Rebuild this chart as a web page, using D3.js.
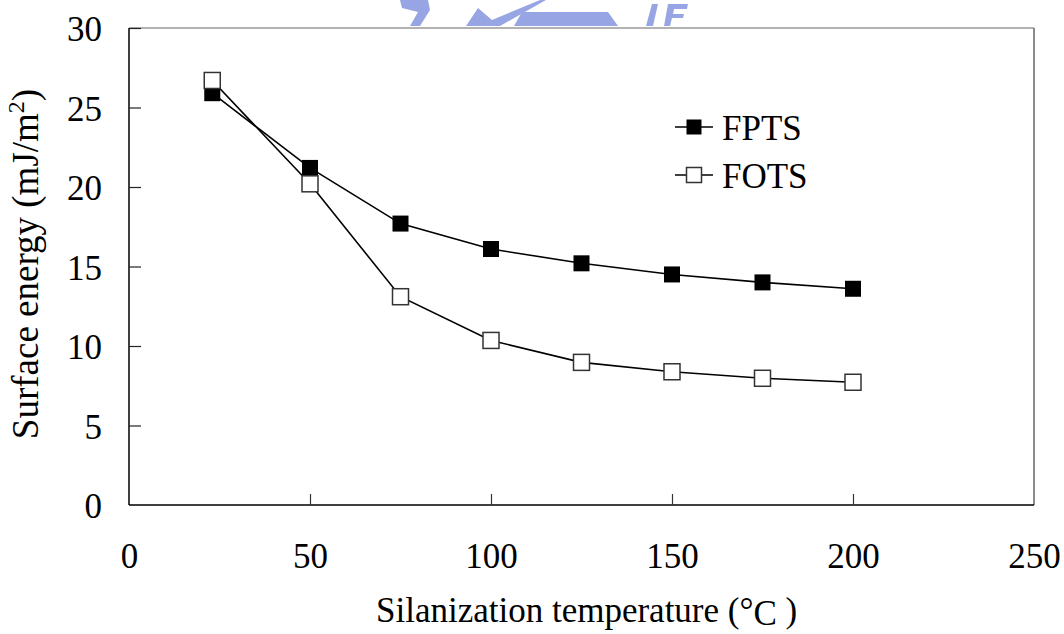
<!DOCTYPE html>
<html><head><meta charset="utf-8">
<script src="https://cdn.jsdelivr.net/npm/d3@7"></script>
<style>body{margin:0;background:#fff}svg{display:block}</style>
</head><body><svg id="c" width="1064" height="634"></svg>
<script>
const temps = [23, 50, 75, 100, 125, 150, 175, 200];
const fpts = [25.9, 21.2, 17.7, 16.1, 15.2, 14.5, 14.0, 13.6];
const fots = [26.7, 20.2, 13.1, 10.35, 8.97, 8.38, 7.97, 7.72];
const xTicks = [0, 50, 100, 150, 200, 250];
const yTicks = [0, 5, 10, 15, 20, 25, 30];
const seriesNames = ["FPTS", "FOTS"];

const FONT = "'Liberation Serif', 'DejaVu Serif', 'Noto Serif', serif";
const svg = d3.select("#c");
const L = 129, R = 1034, T = 28, B = 505;
const x = d3.scaleLinear().domain([0, 250]).range([L, R]);
const y = d3.scaleLinear().domain([0, 30]).range([B, T]);

// faint watermark (clipped above plot)
const wm = svg.append("g").attr("fill", "#97a5e4");
wm.append("path").attr("d", "M400,0 L428,0 L430,10 L420,26 L410,26 L418,12 L402,8 Z");
wm.append("path").attr("d", "M466,26 L478,8 L492,20 L540,0 L546,0 L500,26 Z");
wm.append("path").attr("d", "M522,12 L608,12 L618,26 L514,26 Z");
wm.append("path").attr("d", "M646,26 L652,4 L658,4 L653,26 Z");
wm.append("path").attr("d", "M664,26 L668,4 L688,4 L687,9 L674,9 L673,14 L684,14 L683,18 L672,18 L670,26 Z");

// frame
svg.append("line").attr("x1", L).attr("x2", R).attr("y1", T).attr("y2", T).attr("stroke", "#999").attr("stroke-width", 1.5);
svg.append("line").attr("x1", R).attr("x2", R).attr("y1", T).attr("y2", B).attr("stroke", "#666").attr("stroke-width", 1.5);

// axes
const xAxis = d3.axisBottom(x).tickValues(xTicks).tickSize(-11).tickPadding(38).tickFormat(d3.format("d"));
const gx = svg.append("g").attr("transform", `translate(0,${B})`).call(xAxis);
gx.select(".domain").attr("stroke", "#000").attr("stroke-width", 1.5).attr("d", `M${L},0H${R}`);
gx.selectAll(".tick line").attr("stroke", "#333").attr("stroke-width", 1.2).filter(d => d === 0 || d === 250).remove();
gx.selectAll(".tick text").style("font-family", FONT).style("font-size", "35px").attr("fill", "#000").attr("dy", "0.71em");

const yAxis = d3.axisLeft(y).tickValues(yTicks).tickSize(-12).tickPadding(27);
const gy = svg.append("g").attr("transform", `translate(${L},0)`).call(yAxis);
gy.select(".domain").attr("stroke", "#000").attr("stroke-width", 1.5).attr("d", `M0,${T}V${B}`);
gy.selectAll(".tick line").attr("stroke", "#222").attr("stroke-width", 1.2).filter(d => d === 0).remove();
gy.selectAll(".tick text").style("font-family", FONT).style("font-size", "35px").attr("fill", "#000").attr("dy", "0.36em");

// titles
const xt = svg.append("text").attr("x", 376).attr("y", 622).style("font-family", FONT).style("font-size", "35px");
xt.append("tspan").text("Silanization temperature (");
xt.append("tspan").text("°");
xt.append("tspan").attr("dy", 3).text("C");
xt.append("tspan").attr("dy", -3).text(" )");

const yt = svg.append("text").attr("transform", "translate(38,264) rotate(-90)").attr("text-anchor", "middle").style("font-family", FONT).style("font-size", "37px");
yt.append("tspan").text("Surface energy (mJ/m");
yt.append("tspan").style("font-size", "24px").attr("dy", -14).text("2");
yt.append("tspan").attr("dy", 14).text(")");

// series
const data = [
  {name: seriesNames[0], vals: fpts, fill: "#000"},
  {name: seriesNames[1], vals: fots, fill: "#fff"}
];
const line = d3.line().x((d, i) => x(temps[i])).y(d => y(d));
data.forEach(s => {
  svg.append("path").attr("d", line(s.vals)).attr("fill", "none").attr("stroke", "#000").attr("stroke-width", 1.6);
});
const ms = 16;
data.forEach(s => {
  svg.append("g").selectAll("rect").data(s.vals).join("rect")
    .attr("x", (d, i) => x(temps[i]) - ms / 2).attr("y", d => y(d) - ms / 2)
    .attr("width", ms).attr("height", ms)
    .attr("fill", s.fill).attr("stroke", s.fill === "#000" ? "#000" : "#333").attr("stroke-width", s.fill === "#000" ? 0 : 1.5);
});

// legend
const legY = [127, 175];
data.forEach((s, i) => {
  const g = svg.append("g").attr("transform", `translate(694,${legY[i]})`);
  g.append("line").attr("x1", -19).attr("x2", 19).attr("stroke", "#000").attr("stroke-width", 1.6);
  g.append("rect").attr("x", -7.5).attr("y", -7.5).attr("width", 15).attr("height", 15)
    .attr("fill", s.fill).attr("stroke", s.fill === "#000" ? "none" : "#333").attr("stroke-width", 1.5);
  g.append("text").attr("x", 28).attr("y", 13).style("font-family", FONT).style("font-size", "35px").text(s.name);
});
</script></body></html>
